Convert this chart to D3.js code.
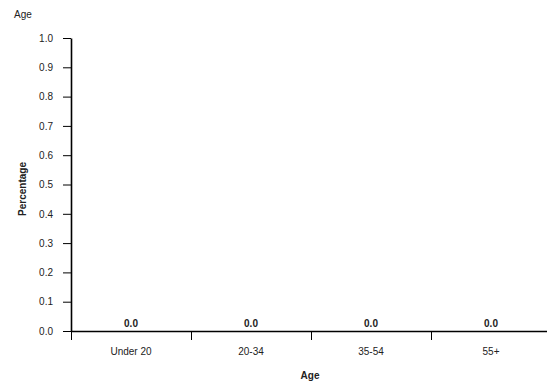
<!DOCTYPE html>
<html>
<head>
<meta charset="utf-8">
<script src="https://cdn.jsdelivr.net/npm/d3@7"></script>
<style>
  body { margin: 0; background: #fff; }
  text { font-family: "Liberation Sans", Arial, sans-serif; }
</style>
</head>
<body>
<div id="chart"></div>
<script>
// data
var categories = ["Under 20", "20-34", "35-54", "55+"];
var values = [0.0, 0.0, 0.0, 0.0];
var yTicks = [0, 0.1, 0.2, 0.3, 0.4, 0.5, 0.6, 0.7, 0.8, 0.9, 1.0];

var margin = {top: 38, right: -4, bottom: 56, left: 71};
var width = 547 - margin.left - margin.right;
var height = 387 - margin.top - margin.bottom;

var svg = d3.select("#chart").append("svg")
    .attr("width", 547)
    .attr("height", 387);

var g = svg.append("g")
    .attr("transform", "translate(" + margin.left + "," + margin.top + ")");

var x = d3.scaleBand().domain(categories).range([0, width]);
var xb = d3.scaleLinear().domain([0, categories.length]).range([0, width]);
var y = d3.scaleLinear().domain([0, 1]).range([height, 0]);

// y axis
var yAxis = g.append("g")
    .call(d3.axisLeft(y).tickValues(yTicks).tickFormat(d3.format(".1f")).tickSize(8).tickSizeOuter(0).tickPadding(10));
yAxis.select(".domain").attr("stroke-width", 1.6);
yAxis.selectAll("text").attr("font-size", 10).attr("fill", "#222").style("font-family", "Liberation Sans, Arial, sans-serif");

// x boundary ticks
var xAxisB = g.append("g")
    .attr("transform", "translate(0," + height + ")")
    .call(d3.axisBottom(xb).tickValues(d3.range(categories.length + 1)).tickSize(9).tickSizeOuter(0).tickFormat(""));
xAxisB.select(".domain").attr("stroke-width", 1.6);

// x category labels
var xAxis = g.append("g")
    .attr("transform", "translate(0," + height + ")")
    .call(d3.axisBottom(x).tickSize(0).tickPadding(17));
xAxis.select(".domain").remove();
xAxis.selectAll("text").attr("font-size", 10).attr("fill", "#222").style("font-family", "Liberation Sans, Arial, sans-serif");

// bars (zero height)
g.selectAll(".bar")
    .data(values)
    .enter().append("rect")
    .attr("class", "bar")
    .attr("x", function(d, i) { return x(categories[i]) + x.bandwidth() * 0.2; })
    .attr("width", x.bandwidth() * 0.6)
    .attr("y", function(d) { return y(d); })
    .attr("height", function(d) { return height - y(d); })
    .attr("fill", "#888");

// value labels
g.selectAll(".val")
    .data(values)
    .enter().append("text")
    .attr("x", function(d, i) { return x(categories[i]) + x.bandwidth() / 2; })
    .attr("y", function(d) { return y(d) - 4; })
    .attr("text-anchor", "middle")
    .attr("font-size", 10)
    .attr("font-weight", "bold")
    .attr("fill", "#222")
    .text(function(d) { return d3.format(".1f")(d); });

// x label
svg.append("text")
    .attr("x", 310)
    .attr("y", 379)
    .attr("text-anchor", "middle")
    .attr("font-size", 10)
    .attr("font-weight", "bold")
    .attr("fill", "#222")
    .text("Age");

// y label
svg.append("text")
    .attr("transform", "translate(26,189) rotate(-90)")
    .attr("text-anchor", "middle")
    .attr("font-size", 10)
    .attr("font-weight", "bold")
    .attr("fill", "#222")
    .text("Percentage");

// title
svg.append("text")
    .attr("x", 14)
    .attr("y", 18)
    .attr("font-size", 10)
    .attr("fill", "#222")
    .text("Age");
</script>
</body>
</html>
